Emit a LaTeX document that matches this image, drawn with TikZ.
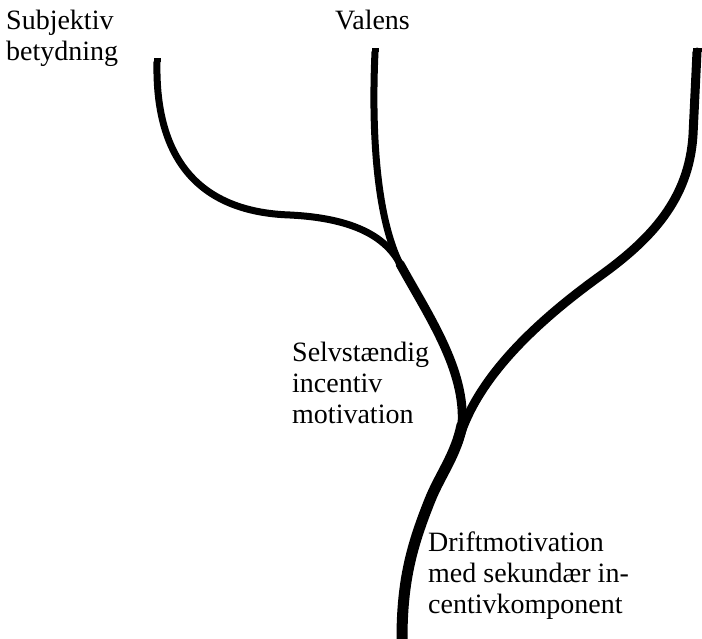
\documentclass[tikz,border=0pt]{standalone}
\usepackage{fontspec}
\setmainfont{Liberation Serif}
\begin{document}
\begin{tikzpicture}[x=1pt,y=-1pt,
  lbl/.style={anchor=north west,inner sep=0pt,align=left,font=\fontsize{28}{31}\selectfont},
  branch/.style={line width=#1,line cap=round,line join=round}]
\useasboundingbox (0,0) rectangle (702,639);
% labels
\node[lbl] (subj) at (6,10) {Subjektiv\\betydning};
\node[lbl] (val) at (335,10) {Valens};
\node[lbl] (selv) at (292,342) {Selvstændig\\incentiv\\motivation};
\node[lbl] (drift) at (428,532) {Driftmotivation\\med sekundær in-\\centivkomponent};
% key points
\coordinate (tipL) at (157,62);
\coordinate (tipM) at (375,52);
\coordinate (tipR) at (697,52);
\coordinate (j1) at (400,264);
\coordinate (j2) at (462,425);
\coordinate (root) at (402,639);
% branches
\draw[branch=7pt] (tipL) .. controls (155,160) and (200,212) .. (290,215)
   .. controls (350,218) and (385,235) .. (j1);
\draw[branch=7pt] (tipM) .. controls (371,140) and (378,220) .. (j1);
\draw[branch=9pt] (j1) .. controls (428,315) and (466,370) .. (j2);
\draw[branch=9pt] (tipR) -- (693,135) .. controls (689,200) and (650,240) .. (600,276)
   .. controls (525,330) and (474,385) .. (458,442);
\draw[branch=11pt] (j2) .. controls (456,455) and (440,475) .. (430,500)
   .. controls (412,545) and (402,580) .. (root);
% square ends at the free tips
\fill (tipL) ++(-3.5,0) rectangle ++(7,-4);
\fill (tipM) ++(-3.5,0) rectangle ++(7,-4);
\fill (tipR) ++(-4.5,0) rectangle ++(9,-4);
\end{tikzpicture}
\end{document}
